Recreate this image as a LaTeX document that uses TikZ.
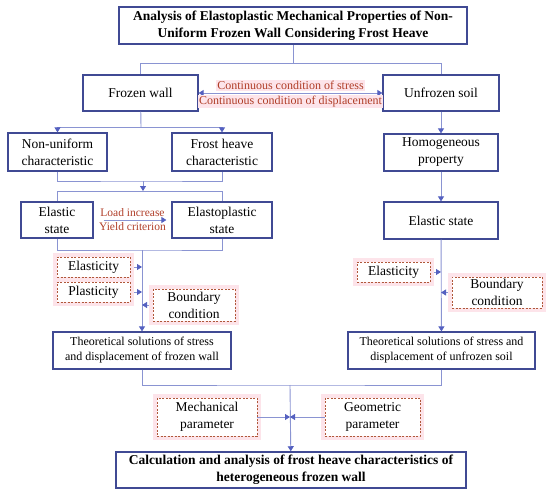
\documentclass[tikz,border=0pt]{standalone}
\usepackage{fontspec}
\setmainfont{Liberation Serif}
\usepackage{tikz}
\usetikzlibrary{arrows.meta, positioning}
\usepackage{xcolor}
\definecolor{boxblue}{RGB}{64,74,148}
\definecolor{lineblue}{RGB}{138,148,210}
\definecolor{tipblue}{RGB}{84,96,192}
\definecolor{notered}{RGB}{176,62,40}
\definecolor{dashbrown}{RGB}{176,88,58}
\definecolor{glowpink}{RGB}{253,228,234}
\newcommand{\mainfs}{\fontsize{13.5}{17}\selectfont}
\newcommand{\notefs}{\fontsize{12}{15}\selectfont}
\tikzstyle{box} = [
    rectangle, draw=boxblue, line width=1.2pt, fill=white,
    align=center, inner sep=0pt, font=\mainfs
]
\tikzstyle{titlebox} = [
    box, line width=1.5pt, font=\mainfs\bfseries
]
\tikzstyle{factor} = [
    rectangle, draw=dashbrown, line width=0.8pt, dash pattern=on 2pt off 1.5pt,
    fill=white, align=center, inner sep=0pt, font=\mainfs,
    preaction={draw=glowpink, line width=8pt, solid}
]
\tikzstyle{note} = [font=\notefs, text=notered, inner sep=1pt]
\tikzstyle{link} = [draw=lineblue, line width=0.9pt]
\tikzstyle{arrow} = [link, -{Triangle[length=5pt, width=6pt, color=tipblue]}]
\tikzstyle{dblarrow} = [link, {Triangle[length=5pt, width=6pt, color=tipblue]}-{Triangle[length=5pt, width=6pt, color=tipblue]}]

\begin{document}
\begin{tikzpicture}[x=1pt, y=-1pt]
    \useasboundingbox (0,0) rectangle (550,496);
    % Nodes
    \node[titlebox, minimum width=348pt, minimum height=37pt] (title) at (293,25.5)
        {Analysis of Elastoplastic Mechanical Properties of Non-\\Uniform Frozen Wall Considering Frost Heave};
    \node[box, minimum width=115pt, minimum height=36pt] (frozen) at (140.5,93) {Frozen wall};
    \node[box, minimum width=116pt, minimum height=36pt] (unfrozen) at (441,93) {Unfrozen soil};
    \node[box, minimum width=99pt, minimum height=38pt] (nonuni) at (57.5,152) {Non-uniform\\characteristic};
    \node[box, minimum width=100pt, minimum height=38pt] (frost) at (222,152) {Frost heave\\characteristic};
    \node[box, minimum width=114pt, minimum height=37pt] (homog) at (441,152.5) {Homogeneous\\property};
    \node[box, minimum width=72pt, minimum height=36pt] (elastic) at (57,220) {Elastic\\state};
    \node[box, minimum width=100pt, minimum height=36pt] (elastoplastic) at (222,220) {Elastoplastic\\state};
    \node[box, minimum width=114pt, minimum height=37pt] (elastic2) at (441,220.5) {Elastic state};
    \node[factor, minimum width=73pt, minimum height=20pt] (elasticity) at (93.5,267) {Elasticity};
    \node[factor, minimum width=73pt, minimum height=20pt] (plasticity) at (93.5,292) {Plasticity};
    \node[factor, minimum width=82pt, minimum height=32pt] (boundary) at (194,305) {Boundary\\condition};
    \node[factor, minimum width=73pt, minimum height=20pt] (elasticity2) at (393.5,272) {Elasticity};
    \node[factor, minimum width=90pt, minimum height=31pt] (boundary2) at (497,292.5) {Boundary\\condition};
    \node[box, minimum width=178pt, minimum height=37pt, font=\notefs] (theo) at (142,350.5)
        {Theoretical solutions of stress\\and displacement of frozen wall};
    \node[box, minimum width=187pt, minimum height=37pt, font=\notefs] (theo2) at (441.5,350.5)
        {Theoretical solutions of stress and\\displacement of unfrozen soil};
    \node[factor, minimum width=100pt, minimum height=38pt] (mech) at (207,417) {Mechanical\\parameter};
    \node[factor, minimum width=95pt, minimum height=38pt] (geom) at (372.5,417) {Geometric\\parameter};
    \node[titlebox, minimum width=350pt, minimum height=36pt] (final) at (291,470)
        {Calculation and analysis of frost heave characteristics of\\heterogeneous frozen wall};
    % Junction points
    \coordinate (split0) at (293,63);
    \coordinate (split1) at (141,127);
    \coordinate (join1) at (143,181);
    \coordinate (split2) at (143,191);
    \coordinate (join2) at (142,250);
    \coordinate (join3) at (290,385);
    % Arrows — top
    \draw[link] (title) -- (split0);
    \draw[link] (split0) -| (frozen.north);
    \draw[link] (split0) -| (unfrozen.north);
    \draw[dblarrow] (frozen) -- node[above=1.5pt, note, fill=glowpink]{Continuous condition of stress}
        node[below=1.5pt, note, fill=glowpink]{Continuous condition of displacement} (unfrozen);
    % Arrows — frozen wall side
    \draw[link] (frozen) -- (split1);
    \draw[arrow] (split1) -| (nonuni.north);
    \draw[arrow] (split1) -| (frost.north);
    \draw[link] (nonuni.south) |- (join1) -| (frost.south);
    \draw[arrow] (join1) -- (split2);
    \draw[link] (split2) -| (elastic.north);
    \draw[link] (split2) -| (elastoplastic.north);
    \draw[arrow, shorten <=10pt, shorten >=5pt] (elastic) -- node[above=1.5pt, note, font=\fontsize{11.5}{14}\selectfont]{Load increase}
        node[below=1.5pt, note, font=\fontsize{11.5}{14}\selectfont]{Yield criterion} (elastoplastic);
    \draw[link] (elastic.south) |- (join2) -| (elastoplastic.south);
    \draw[arrow] (join2) -- (theo);
    \draw[arrow, shorten <=4pt] (elasticity.east) -- (elasticity.east -| join2);
    \draw[arrow, shorten <=4pt] (plasticity.east) -- (plasticity.east -| join2);
    \draw[arrow, shorten <=4pt] (boundary.west) -- (boundary.west -| join2);
    % Arrows — unfrozen soil side
    \draw[arrow] (unfrozen) -- (homog);
    \draw[arrow] (homog) -- (elastic2);
    \draw[arrow] (elastic2) -- (theo2);
    \draw[arrow, shorten <=4pt] (elasticity2.east) -- (elasticity2.east -| elastic2.south);
    \draw[arrow, shorten <=4pt] (boundary2.west) -- (boundary2.west -| elastic2.south);
    % Arrows — bottom
    \draw[link] (theo.south) |- (join3) -| (theo2.south);
    \draw[arrow] (join3) -- (final);
    \draw[arrow] (mech.east) -- (mech.east -| join3);
    \draw[arrow] (geom.west) -- (geom.west -| join3);
\end{tikzpicture}
\end{document}
